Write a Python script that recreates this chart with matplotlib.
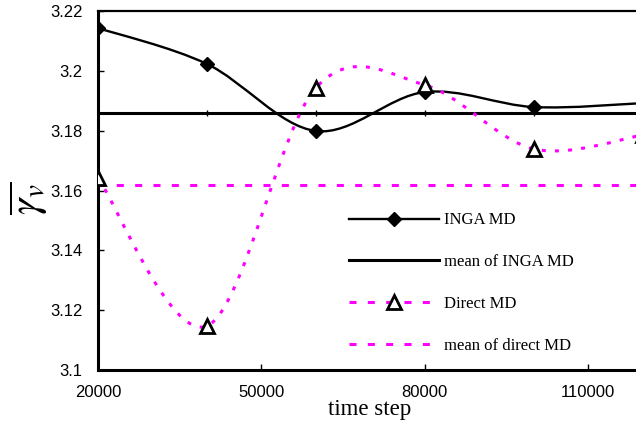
import matplotlib
matplotlib.use('Agg')
import matplotlib.pyplot as plt
from matplotlib.path import Path
from matplotlib.patches import PathPatch
from matplotlib.lines import Line2D

# values
steps = [20000, 40000, 60000, 80000, 100000, 120000]
inga_md = [3.2143, 3.2023, 3.1799, 3.1929, 3.1879, 3.1892]
direct_md = [3.1642, 3.1147, 3.1943, 3.1953, 3.1739, 3.1785]
inga_mean = 3.1859
direct_mean = 3.1618

x_ticks = [20000, 50000, 80000, 110000]
y_ticks = [3.1, 3.12, 3.14, 3.16, 3.18, 3.2, 3.22]
y_tick_labels = ['3.1', '3.12', '3.14', '3.16', '3.18', '3.2', '3.22']
labels = ['INGA MD', 'mean of INGA MD', 'Direct MD', 'mean of direct MD']

MAGENTA = '#ff00ff'
plt.rcParams['mathtext.fontset'] = 'stix'
tick_font = ['Liberation Sans Narrow', 'DejaVu Sans Condensed', 'Liberation Sans']
text_font = ['Liberation Serif', 'DejaVu Serif']


def smooth_path(xs, ys):
    # excel style smoothed line: catmull-rom turned into cubic bezier pieces
    pts = list(zip(xs, ys))
    n = len(pts)
    verts = [pts[0]]
    codes = [Path.MOVETO]
    for i in range(n - 1):
        p0 = pts[max(i - 1, 0)]
        p1 = pts[i]
        p2 = pts[i + 1]
        p3 = pts[min(i + 2, n - 1)]
        c1 = (p1[0] + (p2[0] - p0[0]) / 6, p1[1] + (p2[1] - p0[1]) / 6)
        c2 = (p2[0] - (p3[0] - p1[0]) / 6, p2[1] - (p3[1] - p1[1]) / 6)
        verts += [c1, c2, p2]
        codes += [Path.CURVE4] * 3
    return Path(verts, codes)


fig = plt.figure(figsize=(6.36, 4.29), dpi=100)
ax = fig.add_axes([98 / 636, 59 / 429, 538 / 636, 359 / 429])

dotted = (0, (1.3, 3.0))
dashed = (0, (2.3, 3.7))

ax.add_patch(PathPatch(smooth_path(steps, inga_md), fill=False, ec='black', lw=1.7, zorder=3))
ax.axhline(inga_mean, color='black', lw=2.2, zorder=2)
ax.plot(steps, [inga_mean] * len(steps), ls='none', marker='|', ms=4, mew=1, color='black', zorder=2)
ax.add_patch(PathPatch(smooth_path(steps, direct_md), fill=False, ec=MAGENTA, lw=2.2,
                       ls=dotted, capstyle='butt', zorder=3))
ax.axhline(direct_mean, color=MAGENTA, lw=2.2, ls=dashed, zorder=2)

ax.plot(steps, inga_md, ls='none', marker='D', ms=7.5, color='black', zorder=5)
ax.plot(steps, direct_md, ls='none', marker='^', ms=10, mfc='white', mec='black', mew=2, zorder=5)

ax.set_xlim(20000, 118800)
ax.set_ylim(3.1, 3.22)
ax.set_xticks(x_ticks)
ax.set_xticklabels([str(v) for v in x_ticks], family=tick_font, fontsize=12)
ax.set_yticks(y_ticks)
ax.set_yticklabels(y_tick_labels, family=tick_font, fontsize=12)
ax.tick_params(axis='x', direction='in', length=4, width=1, pad=11)
ax.tick_params(axis='y', direction='in', length=4, width=1, pad=11)

for side in ['left', 'bottom']:
    ax.spines[side].set_linewidth(2.2)
ax.spines['top'].set_linewidth(1.6)
ax.spines['right'].set_visible(False)

handles = [
    Line2D([], [], color='black', lw=1.7, marker='D', ms=7.5),
    Line2D([], [], color='black', lw=2.2),
    Line2D([], [], color=MAGENTA, lw=2.2, ls=dashed, marker='^', ms=10,
           mfc='white', mec='black', mew=2),
    Line2D([], [], color=MAGENTA, lw=2.2, ls=dashed),
]
ax.legend(handles, labels, loc='upper left', bbox_to_anchor=(341 / 636, 1 - 204 / 429),
          bbox_transform=fig.transFigure, frameon=False, borderpad=0, numpoints=1,
          handlelength=5.35, handletextpad=0.3, labelspacing=1.55,
          prop={'family': text_font, 'size': 12})

fig.text(370 / 636, 1 - 409 / 429, 'time step', ha='center', va='center',
         family=text_font, fontsize=16.5)
fig.text(29 / 636, 1 - 198 / 429, r'$\overline{\gamma_{v}}$', rotation=90,
         ha='center', va='center', fontsize=30)

fig.savefig('out.png', dpi=100)
